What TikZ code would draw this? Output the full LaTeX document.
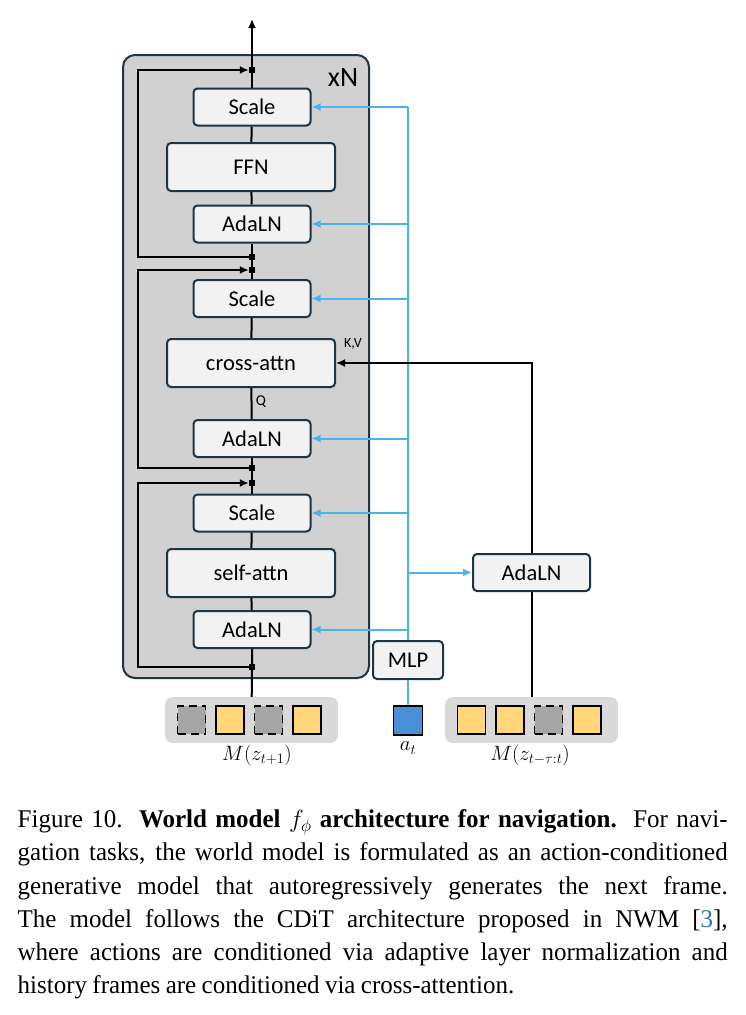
\documentclass[tikz,border=0pt]{standalone}
\usepackage{fontspec}
\setmainfont{Liberation Serif}[FakeStretch=0.98]
\newfontfamily\diagfont{Carlito}
\usetikzlibrary{arrows.meta}
\definecolor{boxfill}{HTML}{F2F2F2}
\definecolor{boxedge}{HTML}{1E3545}
\definecolor{stackfill}{HTML}{D1D1D1}
\definecolor{groupfill}{HTML}{D9D9D9}
\definecolor{condblue}{HTML}{4DB3E6}
\definecolor{tokyellow}{HTML}{FFD67A}
\definecolor{tokgray}{HTML}{A6A6A6}
\definecolor{actblue}{HTML}{4A90D9}
\definecolor{citeblue}{HTML}{2D6FC2}
\newcommand{\capspacing}{\spaceskip=0.21em plus 0.2em minus 0.06em\relax}
\tikzset{
  blk/.style={draw=boxedge,fill=boxfill,line width=2pt,rounded corners=4pt,inner sep=0pt,
    minimum width=117pt,minimum height=37pt,font=\diagfont\fontsize{22.5}{24}\selectfont},
  wideblk/.style={blk,minimum width=168pt,minimum height=48pt},
  jn/.style={rectangle,fill,minimum size=6pt,inner sep=0pt,name=#1},
  wire/.style={line width=2pt},
  cond/.style={line width=2pt,draw=condblue},
  tip/.style={-{Latex[length=9pt,width=8pt]}},
  tok/.style={draw=black,line width=1.8pt,minimum size=28pt,inner sep=0pt},
  masktok/.style={tok,fill=tokgray,dash pattern=on 8pt off 5pt},
  keptok/.style={tok,fill=tokyellow},
  tokgroup/.style={fill=groupfill,rounded corners=8pt,minimum width=173pt,minimum height=46pt},
  seqlbl/.style={font=\fontsize{20}{22}\selectfont}
}
\begin{document}
\begin{tikzpicture}[x=1pt,y=-1pt]
  \useasboundingbox (0,0) rectangle (746,1015);
  \node [draw=boxedge,fill=stackfill,line width=2pt,rounded corners=12pt,minimum width=246pt,minimum height=623pt] (stack) at (246,366.5) {};
  \node [font=\diagfont\fontsize{28}{30}\selectfont] (rep) at (343,78) {xN};

  \node [blk] (sc1) at (252,107) {Scale};
  \node [wideblk] (ffn) at (251,167) {FFN};
  \node [blk] (ada1) at (252,224) {AdaLN};
  \node [blk] (sc2) at (252,298.5) {Scale};
  \node [wideblk] (ca) at (251,363) {cross-attn};
  \node [blk] (ada2) at (252,438.5) {AdaLN};
  \node [blk] (sc3) at (252,513) {Scale};
  \node [wideblk] (sa) at (251,573) {self-attn};
  \node [blk] (ada3) at (252,629.5) {AdaLN};

  \node [jn=j1] at (252,70) {};
  \node [jn=j2] at (252,257) {};
  \node [jn=j3] at (252,270) {};
  \node [jn=j4] at (252,468) {};
  \node [jn=j5] at (252,483) {};
  \node [jn=j6] at (252,667) {};
  \coordinate (out) at (252,19);
  \coordinate (lx) at (138,0);

  \node [blk,minimum width=70pt,minimum height=38pt] (mlp) at (408,660) {MLP};
  \node [blk] (adaR) at (531.5,572.5) {AdaLN};

  \node [tokgroup] (tokL) at (251.5,720) {};
  \node [tokgroup] (tokR) at (531.5,720) {};
  \foreach \i/\kind in {0/masktok,1/keptok,2/masktok,3/keptok}
    \node [\kind,xshift=-60pt+38.5pt*\i] (tl\i) at (tokL) {};
  \foreach \i/\kind in {0/keptok,1/keptok,2/masktok,3/keptok}
    \node [\kind,xshift=-60pt+38.5pt*\i] (tr\i) at (tokR) {};
  \node [draw=black,fill=actblue,line width=1.8pt,minimum size=29pt,inner sep=0pt] (act) at (408,720.5) {};

  \node [seqlbl] (lblL) at (257,755) {$M(z_{t+1})$};
  \node [seqlbl] (lblA) at (408,748) {$a_t$};
  \node [seqlbl] (lblR) at (530,755) {$M(z_{t-\tau:t})$};

  \draw [wire] (tokL) -- (j6.center) -- (ada3);
  \draw [wire] (ada3) -- (sa);
  \draw [wire] (sa) -- (sc3);
  \draw [wire] (sc3) -- (j5.center) -- (j4.center) -- (ada2);
  \draw [wire] (ada2) -- node [right, font=\diagfont\fontsize{15}{16}\selectfont, yshift=2pt] (q) {Q} (ca);
  \draw [wire] (ca) -- (sc2);
  \draw [wire] (sc2) -- (j3.center) -- (j2.center) -- (ada1);
  \draw [wire] (ada1) -- (ffn);
  \draw [wire] (ffn) -- (sc1);
  \draw [wire,tip] (sc1) -- (j1.center) -- (out);

  \draw [wire,tip] (j2.center) -- (j2 -| lx) -- (j1 -| lx) -- (j1.west);
  \draw [wire,tip] (j4.center) -- (j4 -| lx) -- (j3 -| lx) -- (j3.west);
  \draw [wire,tip] (j6.center) -- (j6 -| lx) -- (j5 -| lx) -- (j5.west);

  \draw [cond] (act) -- (mlp);
  \draw [cond] (mlp.north) -- (mlp.north |- sc1.east);
  \foreach \b in {sc1,ada1,sc2,ada2,sc3,ada3}
    \draw [cond,tip] (mlp.north |- \b.east) -- (\b.east);
  \draw [cond,tip] (mlp.north |- adaR.west) -- (adaR.west);

  \draw [wire] (tokR) -- (adaR);
  \draw [wire,tip] (adaR.north) |- (ca.east);
  \node [font=\diagfont\fontsize{14}{15}\selectfont] (kv) at (353,344) {K,V};

  \node [anchor=north west,text width=710pt,align=justify,inner sep=0pt,
    font=\fontsize{25.5}{33.2}\selectfont] (cap) at (17.5,809.5) {\capspacing Figure 10. \textbf{World model $f_\phi$ architecture for navigation.} For navi-\linebreak
    gation tasks, the world model is formulated as an action-conditioned\linebreak
    generative model that autoregressively generates the next frame.\linebreak
    The model follows the CDiT architecture proposed in NWM [{\color{citeblue}3}],\linebreak
    where actions are conditioned via adaptive layer normalization and\linebreak
    history frames are conditioned via cross-attention.};
\end{tikzpicture}
\end{document}
